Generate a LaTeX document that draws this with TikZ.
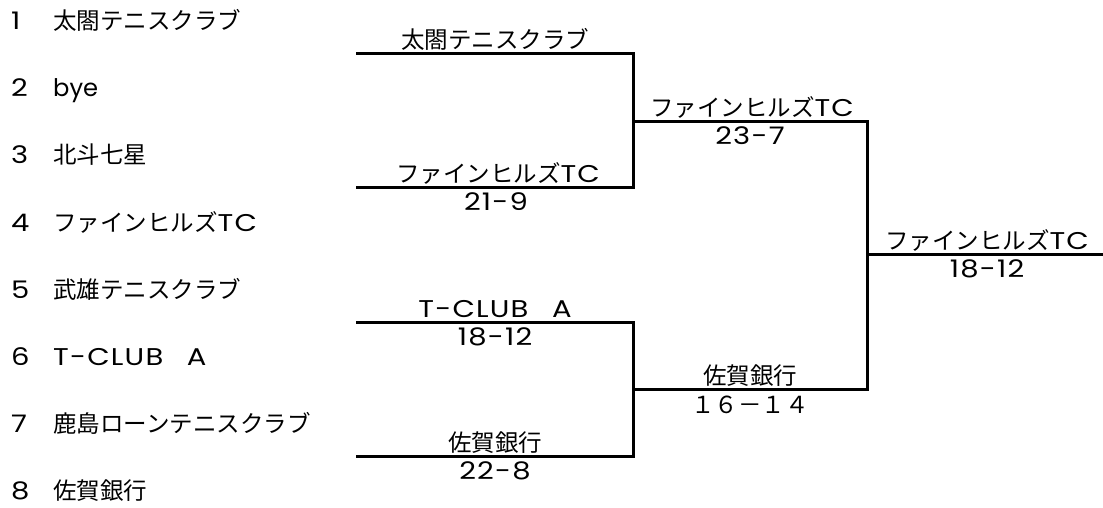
\documentclass[tikz,border=0pt]{standalone}
\usepackage{fontspec}
\setmainfont{Noto Sans CJK JP}
\newfontfamily\lat[Scale=1.03,FakeStretch=1.2,LetterSpace=5]{Poppins}
\newfontfamily\latn[Scale=1.03]{Poppins}
\begin{document}
\begin{tikzpicture}[x=1pt,y=-1pt,
  txt/.style={inner sep=0pt,font=\fontsize{23.5}{26}\selectfont,anchor=base},
  entry/.style={txt,anchor=base west},
  brk/.style={line width=3pt,line join=miter,line cap=rect}]
\fill[white] (0,0) rectangle (1103,507);
\useasboundingbox (0,0) rectangle (1103,507);
% entry list
\foreach \i/\name in {1/太閤テニスクラブ,2/{\latn bye},3/北斗七星,4/ファインヒルズ{\lat TC},5/武雄テニスクラブ,6/{\lat T-CLUB}　{\lat A},7/鹿島ローンテニスクラブ,8/佐賀銀行}{
  \node[entry] (n\i) at (11,{29.5+67.2*(\i-1)}) {\lat\i};
  \node[entry] (e\i) at (53,{29.5+67.2*(\i-1)}) {\name};
}
% coordinates
\coordinate (a1) at (357,53);  \coordinate (a1r) at (633,53);
\coordinate (a2) at (357,187); \coordinate (a2r) at (633,187);
\coordinate (a3) at (357,322); \coordinate (a3r) at (633,322);
\coordinate (a4) at (357,456); \coordinate (a4r) at (633,456);
\coordinate (b1) at (633,121); \coordinate (b1r) at (867,121);
\coordinate (b2) at (633,389); \coordinate (b2r) at (867,389);
\coordinate (c1) at (867,254); \coordinate (c1r) at (1103,254);
% bracket lines
\draw[brk] (a1) -- (a1r) -- (a2r) -- (a2);
\draw[brk] (a3) -- (a3r) -- (a4r) -- (a4);
\draw[brk] (b1) -- (b1r) -- (b2r) -- (b2);
\draw[brk,line cap=butt] (c1) -- (c1r);
% labels round 1
\node[txt] (l1) at (495,48) {太閤テニスクラブ};
\node[txt] (l2) at (498,182) {ファインヒルズ{\lat TC}};
\node[txt] (s2) at (496,210) {\lat 21-9};
\node[txt] (l3) at (495,317) {{\lat T-CLUB}　{\lat A}};
\node[txt] (s3) at (495,345) {\lat 18-12};
\node[txt] (l4) at (495,451) {佐賀銀行};
\node[txt] (s4) at (495,479) {\lat 22-8};
% round 2
\node[txt] (l5) at (752,116) {ファインヒルズ{\lat TC}};
\node[txt] (s5) at (750,144) {\lat 23-7};
\node[txt] (l6) at (750,384) {佐賀銀行};
\node[txt] (s6) at (750,413) {１６－１４};
% final
\node[txt] (l7) at (987,249) {ファインヒルズ{\lat TC}};
\node[txt] (s7) at (987,277) {\lat 18-12};
\end{tikzpicture}
\end{document}
